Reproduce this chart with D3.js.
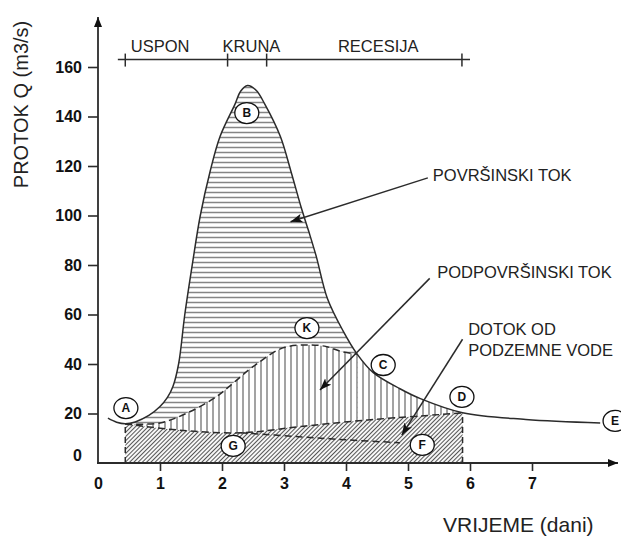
<!DOCTYPE html>
<html>
<head>
<meta charset="utf-8">
<script src="https://cdn.jsdelivr.net/npm/d3@7"></script>
<style>
  body { margin: 0; background: #fff; }
  svg { display: block; font-family: "Liberation Sans", Arial, sans-serif; }
</style>
</head>
<body>
<div id="chart"></div>
<script>
// Hydrograph values (days, m3/s)
// total runoff curve A - B - C - D - E
var totalDays = [0.16, 0.30, 0.44, 0.60, 0.82, 1.00, 1.12, 1.21, 1.30, 1.40, 1.52, 1.65, 1.81, 1.97, 2.21, 2.30, 2.41, 2.55, 2.69, 2.94, 3.11, 3.28, 3.40, 3.52, 3.70, 3.95, 4.18, 4.44, 4.87, 5.20, 5.88, 6.90, 8.10];
var totalFlow = [18.1, 16.5, 15.9, 16.6, 19.2, 22.8, 26.5, 31.0, 40.0, 60.0, 80.0, 100.0, 118.0, 132.0, 145.0, 150.2, 152.5, 150.6, 145.0, 132.0, 118.0, 103.0, 93.5, 83.5, 66.5, 53.5, 44.0, 36.5, 30.0, 26.0, 20.3, 17.6, 16.2];

// subsurface flow (dashed curve through K)
var subDays = [0.44, 1.00, 1.48, 1.91, 2.18, 2.50, 2.98, 3.42, 3.69, 3.93, 4.18];
var subFlow = [15.8, 16.2, 20.7, 26.8, 32.3, 38.9, 46.5, 47.7, 47.0, 45.0, 44.0];

// groundwater inflow, upper (A - D) and lower (G - F) separation lines
var baseDays = [0.44, 1.30, 2.30, 3.25, 4.35, 5.88];
var baseFlow = [15.8, 13.3, 12.2, 14.7, 17.4, 20.2];
var lowDays = [2.30, 3.25, 4.05, 4.87];
var lowFlow = [12.2, 10.6, 9.3, 8.2];

// phases of the hydrograph
var phaseNames = ["USPON", "KRUNA", "RECESIJA"];
var phaseStart = [0.53, 2.01, 3.87];
var phaseTicks = [0.44, 2.09, 2.72, 5.87];

// point letters
var pointNames = ["A", "B", "K", "C", "D", "E", "F", "G"];
var pointDays = [0.45, 2.40, 3.37, 4.60, 5.87, 8.34, 5.23, 2.18];
var pointFlow = [22.2, 141.4, 54.5, 39.6, 26.7, 17.0, 7.3, 6.9];

var xTicks = [0, 1, 2, 3, 4, 5, 6, 7];
var yTicks = [0, 20, 40, 60, 80, 100, 120, 140, 160];

var svgWidth = 621;
var svgHeight = 537;

var svg = d3.select("#chart")
  .append("svg")
  .attr("width", svgWidth)
  .attr("height", svgHeight);

var xScale = d3.scaleLinear().domain([0, 8]).range([98, 594]);
var yScale = d3.scaleLinear().domain([0, 160]).range([463, 67]);

var ink = "#2b2b2b";

function zip(xs, ys) {
  return xs.map(function(x, i) { return [x, ys[i]]; });
}
var totalData = zip(totalDays, totalFlow);
var subData = zip(subDays, subFlow);
var baseData = zip(baseDays, baseFlow);
var lowData = zip(lowDays, lowFlow);

// ---- patterns and clips ----
var defs = svg.append("defs");

var ph = defs.append("pattern")
  .attr("id", "hatch-h")
  .attr("patternUnits", "userSpaceOnUse")
  .attr("width", 8).attr("height", 5);
ph.append("rect").attr("width", 8).attr("height", 5).attr("fill", "#fff");
ph.append("line").attr("x1", 0).attr("x2", 8).attr("y1", 2.5).attr("y2", 2.5)
  .attr("stroke", "#858585").attr("stroke-width", 1.5);

var pv = defs.append("pattern")
  .attr("id", "hatch-v")
  .attr("patternUnits", "userSpaceOnUse")
  .attr("width", 6).attr("height", 8);
pv.append("rect").attr("width", 6).attr("height", 8).attr("fill", "#fff");
pv.append("line").attr("x1", 3).attr("x2", 3).attr("y1", 0).attr("y2", 8)
  .attr("stroke", "#858585").attr("stroke-width", 1.5);

var pd = defs.append("pattern")
  .attr("id", "hatch-d")
  .attr("patternUnits", "userSpaceOnUse")
  .attr("width", 3).attr("height", 6)
  .attr("patternTransform", "rotate(45)");
pd.append("rect").attr("width", 3).attr("height", 6).attr("fill", "#fff");
pd.append("line").attr("x1", 1.5).attr("x2", 1.5).attr("y1", 0).attr("y2", 6)
  .attr("stroke", "#555").attr("stroke-width", 1.1);

defs.append("clipPath").attr("id", "clip-main")
  .append("rect")
  .attr("x", xScale(0.44)).attr("y", 0)
  .attr("width", xScale(5.88) - xScale(0.44)).attr("height", svgHeight);

defs.append("clipPath").attr("id", "clip-tail")
  .append("rect")
  .attr("x", xScale(4.18)).attr("y", 0)
  .attr("width", xScale(5.88) - xScale(4.18)).attr("height", svgHeight);

defs.append("marker")
  .attr("id", "arrow")
  .attr("markerUnits", "userSpaceOnUse")
  .attr("viewBox", "0 -5 12 10")
  .attr("refX", 12).attr("refY", 0)
  .attr("markerWidth", 12).attr("markerHeight", 10)
  .attr("orient", "auto")
  .append("path")
  .attr("d", "M0,-4.5L12,0L0,4.5L3,0Z")
  .attr("fill", "#111");

defs.append("marker")
  .attr("id", "axis-arrow")
  .attr("markerUnits", "userSpaceOnUse")
  .attr("viewBox", "0 -5 10 10")
  .attr("refX", 10).attr("refY", 0)
  .attr("markerWidth", 10).attr("markerHeight", 10)
  .attr("orient", "auto")
  .append("path")
  .attr("d", "M0,-4L10,0L0,4Z")
  .attr("fill", "#111");

// ---- areas ----
var smooth = d3.curveCatmullRom.alpha(0.5);

var area = d3.area()
  .x(function(d) { return xScale(d[0]); })
  .y0(yScale(0))
  .y1(function(d) { return yScale(d[1]); })
  .curve(smooth);

var line = d3.line()
  .x(function(d) { return xScale(d[0]); })
  .y(function(d) { return yScale(d[1]); })
  .curve(smooth);

// surface runoff (horizontal hatch)
svg.append("path")
  .attr("d", area(totalData))
  .attr("fill", "url(#hatch-h)")
  .attr("clip-path", "url(#clip-main)");

// subsurface flow (vertical hatch)
svg.append("path")
  .attr("d", area(subData))
  .attr("fill", "url(#hatch-v)");
svg.append("path")
  .attr("d", area(totalData))
  .attr("fill", "url(#hatch-v)")
  .attr("clip-path", "url(#clip-tail)");

// groundwater inflow (diagonal hatch)
svg.append("path")
  .attr("d", area(baseData))
  .attr("fill", "url(#hatch-d)");

// ---- dashed separation lines ----
var dashed = [subData, baseData, lowData];
dashed.forEach(function(d) {
  svg.append("path")
    .attr("d", line(d))
    .attr("fill", "none")
    .attr("stroke", ink)
    .attr("stroke-width", 1.5)
    .attr("stroke-dasharray", "7,4");
});

[[0.44, 15.8], [5.88, 20.2]].forEach(function(p) {
  svg.append("line")
    .attr("x1", xScale(p[0])).attr("x2", xScale(p[0]))
    .attr("y1", yScale(0)).attr("y2", yScale(p[1]))
    .attr("stroke", ink)
    .attr("stroke-width", 1.5)
    .attr("stroke-dasharray", "6,4");
});

// total hydrograph
svg.append("path")
  .attr("d", line(totalData))
  .attr("fill", "none")
  .attr("stroke", ink)
  .attr("stroke-width", 1.5);

// ---- axes ----
var yAxis = svg.append("g")
  .attr("transform", "translate(" + xScale(0) + ",0)")
  .call(d3.axisLeft(yScale).tickValues(yTicks).tickSize(10).tickPadding(6));

var xAxis = svg.append("g")
  .attr("transform", "translate(0," + yScale(0) + ")")
  .call(d3.axisBottom(xScale).tickValues(xTicks).tickSize(8).tickPadding(7));

[yAxis, xAxis].forEach(function(a) {
  a.select(".domain").remove();
  a.selectAll(".tick line").attr("stroke", ink).attr("stroke-width", 1.6);
  a.selectAll(".tick text")
    .attr("fill", "#111")
    .style("font-family", "'Liberation Sans', Arial, sans-serif")
    .style("font-size", "16px")
    .style("font-weight", "bold");
});
yAxis.selectAll(".tick").filter(function(d) { return d === 0; })
  .select("line").remove();
yAxis.selectAll(".tick").filter(function(d) { return d === 0; })
  .select("text").attr("y", -8);
xAxis.selectAll(".tick").filter(function(d) { return d === 0; })
  .select("line").remove();

svg.append("line")
  .attr("x1", xScale(0)).attr("x2", xScale(0))
  .attr("y1", yScale(0) + 1).attr("y2", 17)
  .attr("stroke", ink).attr("stroke-width", 1.8)
  .attr("marker-end", "url(#axis-arrow)");

svg.append("line")
  .attr("x1", xScale(0) - 1).attr("x2", 618)
  .attr("y1", yScale(0)).attr("y2", yScale(0))
  .attr("stroke", ink).attr("stroke-width", 1.8)
  .attr("marker-end", "url(#axis-arrow)");

svg.append("text")
  .attr("transform", "translate(27.5," + 104.5 + ") rotate(-90)")
  .attr("text-anchor", "middle")
  .attr("fill", "#222")
  .style("font-size", "20px")
  .text("PROTOK Q (m3/s)");

svg.append("text")
  .attr("x", 443)
  .attr("y", 532)
  .attr("fill", "#222")
  .style("font-size", "21px")
  .text("VRIJEME (dani)");

// ---- phase timeline ----
var phaseY = yScale(163);
svg.append("line")
  .attr("x1", xScale(0.32)).attr("x2", xScale(6.0))
  .attr("y1", phaseY).attr("y2", phaseY)
  .attr("stroke", ink).attr("stroke-width", 1.5);

svg.selectAll(".phase-tick")
  .data(phaseTicks)
  .enter()
  .append("line")
  .attr("class", "phase-tick")
  .attr("x1", d => xScale(d)).attr("x2", d => xScale(d))
  .attr("y1", phaseY - 6).attr("y2", phaseY + 7)
  .attr("stroke", ink).attr("stroke-width", 1.5);

svg.selectAll(".phase-label")
  .data(phaseNames)
  .enter()
  .append("text")
  .attr("class", "phase-label")
  .attr("x", (d, i) => xScale(phaseStart[i]))
  .attr("y", phaseY - 7.5)
  .attr("fill", "#222")
  .style("font-size", "16.5px")
  .text(d => d);

// ---- annotations ----
var notes = [
  { lines: ["POVRŠINSKI TOK"], x: 5.40, y: 113.9, from: [5.32, 115.2], to: [3.105, 97.5] },
  { lines: ["PODPOVRŠINSKI TOK"], x: 5.47, y: 74.7, from: [5.35, 74.6], to: [3.58, 29.5] },
  { lines: ["DOTOK OD", "PODZEMNE VODE"], x: 5.97, y: 51.7, from: [5.88, 50.0], to: [4.90, 11.3] }
];

notes.forEach(function(n) {
  svg.append("line")
    .attr("x1", xScale(n.from[0])).attr("y1", yScale(n.from[1]))
    .attr("x2", xScale(n.to[0])).attr("y2", yScale(n.to[1]))
    .attr("stroke", ink).attr("stroke-width", 1.5)
    .attr("marker-end", "url(#arrow)");
  n.lines.forEach(function(t, i) {
    svg.append("text")
      .attr("x", xScale(n.x))
      .attr("y", yScale(n.y) + i * 21)
      .attr("fill", "#222")
      .style("font-size", "16.5px")
      .text(t);
  });
});

// ---- point letters ----
var points = svg.selectAll(".pt")
  .data(pointNames)
  .enter()
  .append("g")
  .attr("class", "pt")
  .attr("transform", (d, i) => "translate(" + xScale(pointDays[i]) + "," + yScale(pointFlow[i]) + ")");

points.append("ellipse")
  .attr("rx", 12).attr("ry", 10.5)
  .attr("fill", "#fff")
  .attr("stroke", "#111")
  .attr("stroke-width", 1.3);

points.append("text")
  .attr("text-anchor", "middle")
  .attr("dy", "0.36em")
  .attr("fill", "#111")
  .style("font-size", "12px")
  .style("font-weight", "bold")
  .text(d => d);
</script>
</body>
</html>
